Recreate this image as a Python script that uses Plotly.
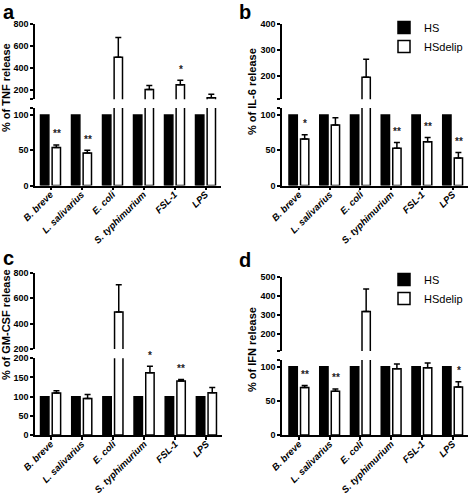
import plotly.graph_objects as go

# ---------------- data ----------------
categories = ["B. breve", "L. salivarius", "E. coli", "S. typhimurium", "FSL-1", "LPS"]
hs_values = [100, 100, 100, 100, 100, 100]

tnf_delip = [54, 46, 500, 205, 248, 130]
tnf_err = [3.5, 4, 180, 35, 42, 32]
tnf_sig = ["**", "**", "", "", "*", ""]

il6_delip = [66, 86, 195, 53, 62, 39]
il6_err = [6, 10, 70, 8, 6, 8]
il6_sig = ["*", "", "", "**", "**", "**"]

gm_delip = [109.5, 95.5, 490, 162, 141, 110]
gm_err = [6, 10, 215, 17, 4, 14]
gm_sig = ["", "", "", "*", "**", ""]

ifn_delip = [69.5, 64, 317, 97, 98.5, 70.5]
ifn_err = [3, 3.5, 118, 7, 7, 7.5]
ifn_sig = ["**", "**", "", "", "", "*"]

# axis-break definitions: (lower range, upper range, lower ticks, upper ticks)
panels = [
    dict(letter="a", title="% of TNF release", vals=tnf_delip, err=tnf_err, sig=tnf_sig,
         low=[0, 110], up=[115, 800], lowticks=[0, 50, 100], upticks=[200, 400, 600, 800]),
    dict(letter="b", title="% of IL-6 release", vals=il6_delip, err=il6_err, sig=il6_sig,
         low=[0, 110], up=[110, 400], lowticks=[0, 50, 100], upticks=[200, 300, 400]),
    dict(letter="c", title="% of GM-CSF release", vals=gm_delip, err=gm_err, sig=gm_sig,
         low=[0, 200], up=[200, 800], lowticks=[0, 50, 100, 150, 200], upticks=[200, 400, 600, 800]),
    dict(letter="d", title="% of IFN release", vals=ifn_delip, err=ifn_err, sig=ifn_sig,
         low=[0, 110], up=[110, 500], lowticks=[0, 50, 100], upticks=[200, 300, 400, 500]),
]

# ---------------- layout geometry (pixels) ----------------
W, H = 472, 495
FONT = "Liberation Sans, Arial, sans-serif"
geom = [
    dict(x=(35, 221), xr=[-0.5, 5.5], up=(24.3, 99.3), low=(108, 185.5),
         title_xy=(6, 88), letter_xy=(1, -1)),
    dict(x=(282, 468), xr=[-0.55, 5.5], up=(24.3, 99.3), low=(108, 185.5),
         title_xy=(252, 92), letter_xy=(237, -1)),
    dict(x=(35, 222), xr=[-0.5, 5.5], up=(272.7, 349), low=(358.3, 435),
         title_xy=(6, 325), letter_xy=(1, 245)),
    dict(x=(282, 468), xr=[-0.55, 5.5], up=(276.7, 351), low=(360, 435),
         title_xy=(252, 350), letter_xy=(237, 247)),
]

def fx(px):
    return px / W

def fy(py):
    return 1 - py / H

fig = go.Figure()
layout = dict(
    template="none",
    width=W, height=H, margin=dict(l=0, r=0, t=0, b=0, pad=0, autoexpand=False),
    paper_bgcolor="white", plot_bgcolor="white",
    barmode="group", bargap=0.25, bargroupgap=0.28,
    font=dict(family=FONT, color="black"),
    showlegend=True,
)
annotations = []

xtickfont = dict(family=FONT, size=9.5, color="black", weight="bold")
ytickfont = dict(family=FONT, size=9, color="black", weight="bold")
ticktext_cat = ["<i>%s</i>" % c for c in categories]

for i, (p, g) in enumerate(zip(panels, geom)):
    lo_idx = 2 * i + 1
    up_idx = 2 * i + 2
    xl = "x" if lo_idx == 1 else "x%d" % lo_idx
    yl = "y" if lo_idx == 1 else "y%d" % lo_idx
    xu = "x%d" % up_idx
    yu = "y%d" % up_idx
    xl_key = "xaxis" if lo_idx == 1 else "xaxis%d" % lo_idx
    yl_key = "yaxis" if lo_idx == 1 else "yaxis%d" % lo_idx
    xu_key = "xaxis%d" % up_idx
    yu_key = "yaxis%d" % up_idx

    low_top = p["low"][1]
    err_low = [e if v < low_top else None for v, e in zip(p["vals"], p["err"])]
    err_up = [e if v >= low_top else None for v, e in zip(p["vals"], p["err"])]
    legend_name = None
    show = False
    if p["letter"] == "b":
        legend_name, show = "legend", True
    elif p["letter"] == "d":
        legend_name, show = "legend2", True

    common_line = dict(color="black", width=1.5)
    for (xa, ya, errs, showleg) in [(xl, yl, err_low, show), (xu, yu, err_up, False)]:
        kw_leg = dict(legend=legend_name) if legend_name else {}
        fig.add_trace(go.Bar(
            x=categories, y=hs_values, name="HS", xaxis=xa, yaxis=ya,
            marker=dict(color="black", line=common_line),
            showlegend=showleg, hoverinfo="skip", **kw_leg))
        fig.add_trace(go.Bar(
            x=categories, y=p["vals"], name="HSdelip", xaxis=xa, yaxis=ya,
            marker=dict(color="white", line=common_line),
            error_y=dict(type="data", symmetric=False, array=errs,
                         arrayminus=[0] * len(errs), color="black",
                         thickness=1.5, width=3),
            showlegend=showleg, hoverinfo="skip", **kw_leg))

    xdom = [fx(g["x"][0]), fx(g["x"][1])]
    layout[xl_key] = dict(
        domain=xdom, range=g["xr"], anchor=yl, type="category", automargin=False,
        tickmode="array", tickvals=categories, ticktext=ticktext_cat,
        tickangle=-45, tickfont=xtickfont, showline=True, linecolor="black",
        linewidth=1.5, ticks="outside", ticklen=3, tickwidth=1.5,
        ticklabelstandoff=-5,
        tickcolor="black", showgrid=False, zeroline=False, fixedrange=True)
    layout[xu_key] = dict(
        domain=xdom, range=g["xr"], anchor=yu, matches=xl, type="category",
        visible=False, showgrid=False, zeroline=False, automargin=False)

    low_tv = p["lowticks"] + ([p["low"][1]] if p["low"][1] not in p["lowticks"] else [])
    low_tt = [str(v) if v in p["lowticks"] else "" for v in low_tv]
    up_tv = ([p["up"][0]] if p["up"][0] not in p["upticks"] else []) + p["upticks"]
    up_tt = [str(v) if v in p["upticks"] else "" for v in up_tv]
    yaxis_style = dict(showline=True, linecolor="black", linewidth=1.5,
                       ticks="outside", ticklen=3, tickwidth=1.5, tickcolor="black",
                       tickfont=ytickfont, showgrid=False, zeroline=False,
                       fixedrange=True, tickmode="array", automargin=False)
    layout[yl_key] = dict(domain=[fy(g["low"][1]), fy(g["low"][0])], range=p["low"],
                          anchor=xl, tickvals=low_tv, ticktext=low_tt, **yaxis_style)
    layout[yu_key] = dict(domain=[fy(g["up"][1]), fy(g["up"][0])], range=p["up"],
                          anchor=xu, tickvals=up_tv, ticktext=up_tt, **yaxis_style)

    # significance stars
    for c, v, e, s in zip(categories, p["vals"], p["err"], p["sig"]):
        if not s:
            continue
        top = v + e
        ya = yl if top <= low_top else yu
        xa = xl if top <= low_top else xu
        annotations.append(dict(
            x=c, y=top, xref=xa, yref=ya, text=s, showarrow=False,
            xshift=6, yshift=11, yanchor="middle",
            font=dict(family=FONT, size=10, color="#222222", weight="bold")))

    # y-axis title
    annotations.append(dict(
        x=fx(g["title_xy"][0]), y=fy(g["title_xy"][1]), xref="paper", yref="paper",
        text=p["title"], textangle=-90, showarrow=False,
        xanchor="center", yanchor="middle",
        font=dict(family=FONT, size=11, color="black", weight="bold")))
    # panel letter
    annotations.append(dict(
        x=fx(g["letter_xy"][0]), y=fy(g["letter_xy"][1]), xref="paper", yref="paper",
        text=p["letter"], showarrow=False, xanchor="left", yanchor="top",
        font=dict(family=FONT, size=20, color="black", weight="bold")))

legend_style = dict(xanchor="left", yanchor="top", bgcolor="rgba(0,0,0,0)",
                    font=dict(family=FONT, size=11, color="black"),
                    tracegroupgap=0, itemclick=False, itemdoubleclick=False)
layout["legend"] = dict(x=fx(384), y=fy(13), **legend_style)
layout["legend2"] = dict(x=fx(384), y=fy(265), **legend_style)
layout["annotations"] = annotations

fig.update_layout(**layout)
fig.write_html(
    "out.html",
    config={"displayModeBar": False},
    post_script="document.body.style.margin='0';document.body.style.overflow='hidden';",
)
